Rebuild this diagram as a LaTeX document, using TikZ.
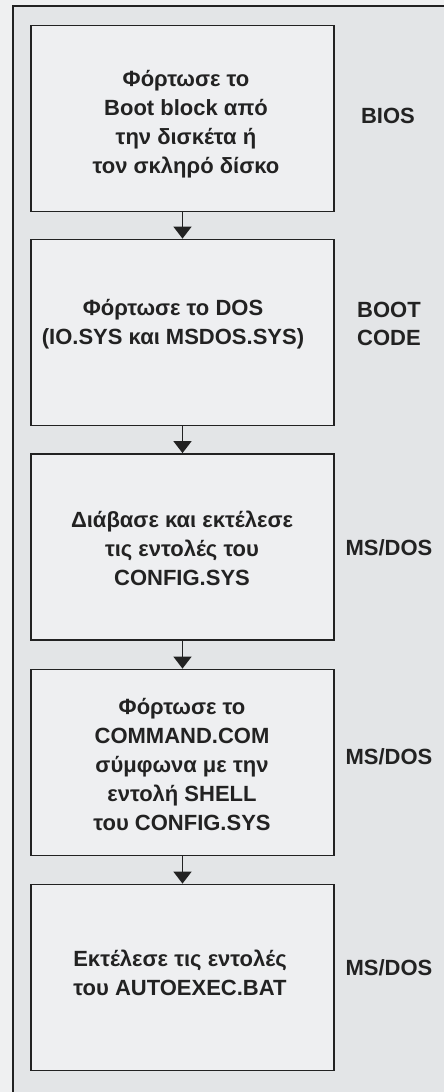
\documentclass[tikz,border=0pt]{standalone}
\usepackage{fontspec}
\setmainfont{Liberation Sans}
\usetikzlibrary{arrows.meta}
\definecolor{pagebg}{HTML}{EFF0F1}
\definecolor{framebg}{HTML}{E3E5E7}
\definecolor{boxbg}{HTML}{EEEFF1}
\definecolor{ink}{HTML}{222222}
\tikzset{
  stepbox/.style={draw=ink, line width=1.8pt, fill=boxbg, rectangle,
    minimum width=303pt, minimum height=186pt, inner sep=0pt},
  steptext/.style={font=\fontsize{22}{29}\selectfont\bfseries, align=center, text=ink, inner sep=0pt},
  sidelabel/.style={font=\fontsize{22}{28}\selectfont\bfseries, align=center, text=ink, inner sep=0pt},
  flow/.style={draw=ink, line width=1.6pt, -{Triangle[width=18pt,length=12pt]}}
}
\begin{document}
\begin{tikzpicture}[x=1pt,y=-1pt]
\useasboundingbox (0,0) rectangle (444,1092);
\fill[pagebg] (0,0) rectangle (444,1092);
\fill[framebg] (13,6) rectangle (450,1100);
\draw[ink, line width=1.8pt] (13,1100) -- (13,6) -- (450,6);

\node[stepbox] (b1) at (182.5,118.5) {};
\node[stepbox] (b2) at (182.5,332.5) {};
\node[stepbox] (b3) at (182.5,547) {};
\node[stepbox] (b4) at (182.5,762.5) {};
\node[stepbox] (b5) at (182.5,977.5) {};

\node[steptext] (t1) at (186,124) {Φόρτωσε το\\Boot block από\\την δισκέτα ή\\τον σκληρό δίσκο};
\node[steptext] (t2) at (173,324) {Φόρτωσε το DOS\\(IO.SYS και MSDOS.SYS)};
\node[steptext] (t3) at (182,548) {Διάβασε και εκτέλεσε\\τις εντολές του\\CONFIG.SYS};
\node[steptext] (t4) at (182,765) {Φόρτωσε το\\COMMAND.COM\\σύμφωνα με την\\εντολή SHELL\\του CONFIG.SYS};
\node[steptext] (t5) at (180,973) {Εκτέλεσε τις εντολές\\του AUTOEXEC.BAT};

\node[sidelabel] (l1) at (388,116) {BIOS};
\node[sidelabel] (l2) at (389,324) {BOOT\\CODE};
\node[sidelabel] (l3) at (389,548) {MS/DOS};
\node[sidelabel] (l4) at (389,757) {MS/DOS};
\node[sidelabel] (l5) at (389,968) {MS/DOS};

\draw[flow] (b1.south) -- (b2.north);
\draw[flow] (b2.south) -- (b3.north);
\draw[flow] (b3.south) -- (b4.north);
\draw[flow] (b4.south) -- (b5.north);
\end{tikzpicture}
\end{document}
